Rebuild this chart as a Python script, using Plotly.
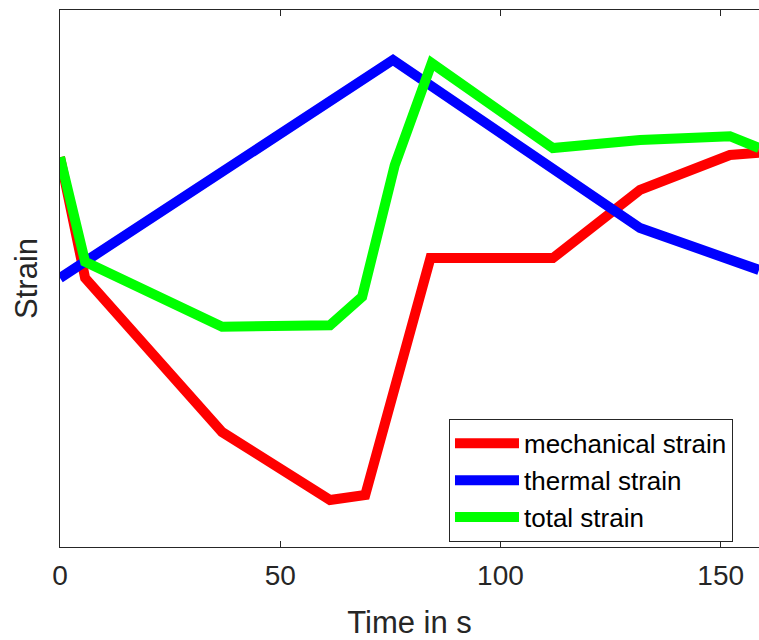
import plotly.graph_objects as go

# Data (y in arbitrary normalized strain units)
t_mech = [0, 5.7, 36.8, 61.3, 69.3, 84.1, 111.9, 131.7, 152.1, 158.7]
mech = [0.726, 0.501, 0.214, 0.0875, 0.0968, 0.538, 0.538, 0.665, 0.730, 0.734]

t_therm = [0, 75.6, 131.7, 158.7]
therm = [0.501, 0.907, 0.594, 0.516]

t_total = [0, 5.7, 36.8, 61.3, 68.6, 76.0, 84.4, 111.9, 131.7, 152.1, 158.7]
total = [0.726, 0.531, 0.410, 0.413, 0.466, 0.711, 0.901, 0.743, 0.758, 0.765, 0.743]

xticks = [0, 50, 100, 150]

FONT = "Liberation Sans, Arial, Helvetica, sans-serif"
AX = "#262626"

fig = go.Figure()
fig.add_trace(go.Scatter(x=t_mech, y=mech, mode="lines", name="mechanical strain",
                         line=dict(color="#FF0000", width=10)))
fig.add_trace(go.Scatter(x=t_therm, y=therm, mode="lines", name="thermal strain",
                         line=dict(color="#0000FF", width=10)))
fig.add_trace(go.Scatter(x=t_total, y=total, mode="lines", name="total strain",
                         line=dict(color="#00FF00", width=10)))

fig.update_layout(
    width=759, height=640,
    margin=dict(l=60, r=0, t=10, b=93),
    paper_bgcolor="white", plot_bgcolor="white",
    font=dict(family=FONT, color=AX),
    showlegend=True,
    legend=dict(
        x=0.5565, y=0.2385, xanchor="left", yanchor="top",
        bgcolor="white", bordercolor=AX, borderwidth=1,
        font=dict(family=FONT, size=26, color="#000000"),
        itemwidth=64, tracegroupgap=0,
    ),
    xaxis=dict(
        range=[0, 158.7], tickvals=xticks, ticktext=[str(v) for v in xticks],
        ticks="inside", ticklen=6, tickcolor=AX, tickwidth=1,
        showline=True, linecolor=AX, linewidth=1, mirror="ticks",
        showgrid=False, zeroline=False, ticklabelstandoff=3,
        tickfont=dict(family=FONT, size=28, color=AX),
        title=dict(text="Time in s", font=dict(family=FONT, size=31, color=AX), standoff=26),
    ),
    yaxis=dict(
        range=[0, 1], showticklabels=False, ticks="",
        showline=True, linecolor=AX, linewidth=1, mirror=False,
        showgrid=False, zeroline=False,
        title=dict(text="Strain", font=dict(family=FONT, size=31, color=AX), standoff=12),
    ),
)

fig.write_html("out.html")
